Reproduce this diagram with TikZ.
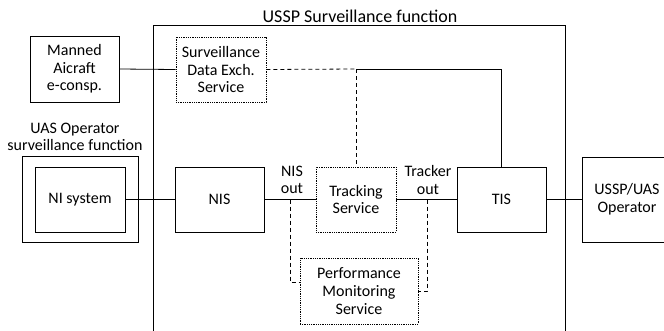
\documentclass[tikz,border=0pt]{standalone}
\usepackage{fontspec}
\setmainfont{Carlito}
\begin{document}
\begin{tikzpicture}[x=1pt,y=-1pt,
  every node/.style={font=\fontsize{16}{17.6}\selectfont, align=center, inner sep=0pt},
  solidbox/.style={draw, line width=0.9pt, minimum width=#1},
  dotbox/.style={draw, line width=0.8pt, dash pattern=on 0.8pt off 1pt, minimum width=#1},
  conn/.style={line width=0.8pt},
  dashconn/.style={line width=0.8pt, dash pattern=on 4pt off 3pt}]
\useasboundingbox (0,0) rectangle (664,330);
\clip (0,0) rectangle (664,330);
% USSP frame
\coordinate (fbl) at (153,331);
\coordinate (ftl) at (153,25);
\coordinate (ftr) at (565,25);
\coordinate (fbr) at (565,331);
\draw[line width=0.9pt] (fbl) -- (ftl) -- (ftr) -- (fbr);
\node[anchor=base, font=\fontsize{18}{20}\selectfont] (title) at (360,22.5) {USSP Surveillance function};
% nodes
\node[solidbox=89, minimum height=66] (manned) at (74.5,69) {Manned\\Aicraft\\e-consp.};
\node[dotbox=90, minimum height=65] (sdes) at (221,69.5) {Surveillance\\Data Exch.\\Service};
\node (uaslabel) at (75,137) {UAS Operator\\surveillance function};
\node[solidbox=116, minimum height=86] (uasouter) at (80,199) {};
\node[solidbox=90, minimum height=65] (nisys) at (80,199.5) {NI system};
\node[solidbox=89, minimum height=65] (nis) at (219.5,199.5) {NIS};
\node[dotbox=80, minimum height=65] (track) at (356,199.5) {Tracking\\Service};
\node[solidbox=89, minimum height=65] (tis) at (501.5,199.5) {TIS};
\node[dotbox=118, minimum height=66] (pms) at (359,291) {Performance\\Monitoring\\Service};
\node[solidbox=90, minimum height=85] (usspop) at (627,199.5) {USSP/UAS\\Operator};
\node (nisout) at (292,180) {NIS\\out};
\node (trackout) at (428,180) {Tracker\\out};
% connectors
\coordinate (j1) at (356,69);
\coordinate (n1) at (290,199.5);
\coordinate (t1) at (427,199.5);
\draw[conn] (manned.east) -- (sdes.west);
\draw[dashconn] (sdes.east) -- (j1);
\draw[dashconn] (j1) -- (track.north);
\draw[conn] (j1) -| (tis.north);
\draw[conn] (nisys.east) -- (nis.west);
\draw[conn] (nis.east) -- (track.west);
\draw[conn] (track.east) -- (tis.west);
\draw[conn] (tis.east) -- (usspop.west);
\draw[dashconn] (n1) |- ([yshift=9pt]pms.west);
\draw[dashconn] (t1) |- (pms.east);
\end{tikzpicture}
\end{document}
